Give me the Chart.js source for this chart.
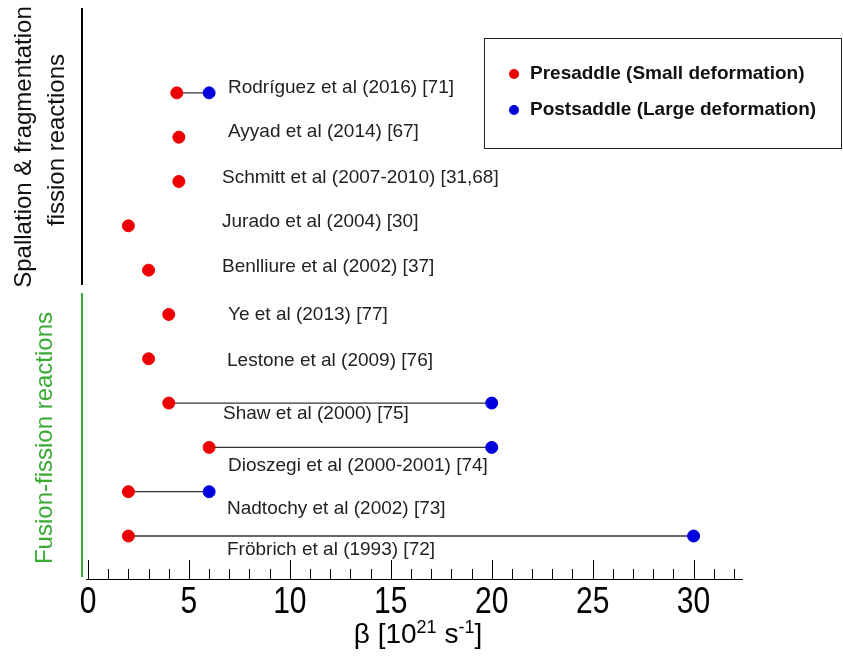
<!DOCTYPE html>
<html>
<head>
<meta charset="utf-8">
<script src="https://cdn.jsdelivr.net/npm/chart.js@4.4.0/dist/chart.umd.min.js"></script>
<style>
  body { margin: 0; background: #fff; }
  #wrap { width: 843px; height: 660px; position: relative; }
</style>
</head>
<body>
<div id="wrap"><canvas id="chartCanvas" width="843" height="660"></canvas></div>
<script>
// studies, top to bottom
const studies = [
  "Rodríguez et al (2016) [71]",
  "Ayyad et al (2014) [67]",
  "Schmitt et al (2007-2010) [31,68]",
  "Jurado et al (2004) [30]",
  "Benlliure et al (2002) [37]",
  "Ye et al (2013) [77]",
  "Lestone et al (2009) [76]",
  "Shaw et al (2000) [75]",
  "Dioszegi et al (2000-2001) [74]",
  "Nadtochy et al (2002) [73]",
  "Fröbrich et al (1993) [72]"
];
const presaddle = [4.4, 4.5, 4.5, 2, 3, 4, 3, 4, 6, 2, 2];
const postsaddle = [6, null, null, null, null, null, null, 20, 20, 6, 30];
const xTicks = [0, 5, 10, 15, 20, 25, 30];

// label placement (pixels): left x, offset from row centre
const labelX = [228, 228, 222, 222, 222, 228, 227, 223, 228, 227, 227];
const labelDy = [-5, -5, -4, -4, -3, 0, 2, 11, 18, 17, 14];

const RED = "#ee0000";
const BLUE = "#0000dd";
const GREEN = "#3aaa35";
const FONT = "'Liberation Sans', Arial, sans-serif";

const datasets = [];
studies.forEach((s, i) => {
  if (postsaddle[i] !== null) {
    datasets.push({
      type: "line",
      data: [{ x: presaddle[i], y: i }, { x: postsaddle[i], y: i }],
      borderColor: "#333",
      borderWidth: 1.3,
      pointRadius: 0,
      order: 3
    });
  }
});
datasets.push({
  label: "Postsaddle (Large deformation)",
  data: studies.map((s, i) => postsaddle[i] === null ? null : { x: postsaddle[i], y: i }).filter(p => p),
  backgroundColor: BLUE,
  borderColor: BLUE,
  pointRadius: 6,
  order: 2
});
datasets.push({
  label: "Presaddle (Small deformation)",
  data: studies.map((s, i) => ({ x: presaddle[i], y: i })),
  backgroundColor: RED,
  borderColor: RED,
  pointRadius: 6,
  order: 1
});

const decorPlugin = {
  id: "decor",
  afterDraw(chart) {
    const ctx = chart.ctx;
    const xs = chart.scales.x;
    const ys = chart.scales.y;
    const base = chart.chartArea.bottom;
    ctx.save();

    // minor / major ticks pointing up
    ctx.strokeStyle = "#000";
    ctx.lineWidth = 1;
    for (let v = 0; v <= 32; v++) {
      const px = Math.round(xs.getPixelForValue(v)) + 0.5;
      const len = v % 5 === 0 ? 19 : 10;
      ctx.beginPath();
      ctx.moveTo(px, base);
      ctx.lineTo(px, base - len);
      ctx.stroke();
    }

    // tick labels (tall, narrow digits as in the original)
    ctx.fillStyle = "#000";
    ctx.font = "30px " + FONT;
    ctx.textAlign = "center";
    ctx.textBaseline = "alphabetic";
    xTicks.forEach(v => {
      ctx.save();
      ctx.translate(xs.getPixelForValue(v), base + 34);
      ctx.scale(1, 1.2);
      ctx.fillText(String(v), 0, 0);
      ctx.restore();
    });

    // study labels
    ctx.fillStyle = "#222";
    ctx.font = "19px " + FONT;
    ctx.textBaseline = "middle";
    ctx.textAlign = "left";
    studies.forEach((s, i) => {
      ctx.fillText(s, labelX[i], ys.getPixelForValue(i) + labelDy[i]);
    });

    // axis title with superscripts
    ctx.fillStyle = "#000";
    ctx.textBaseline = "alphabetic";
    const big = "28px " + FONT;
    const small = "18px " + FONT;
    const parts = [["β [10", big, 0], ["21", small, -10], [" s", big, 0], ["-1", small, -10], ["]", big, 0]];
    let w = 0;
    parts.forEach(p => { ctx.font = p[1]; w += ctx.measureText(p[0]).width; });
    let tx = 418 - w / 2;
    parts.forEach(p => {
      ctx.font = p[1];
      ctx.fillText(p[0], tx, 643 + p[2]);
      tx += ctx.measureText(p[0]).width;
    });

    // group brackets
    ctx.lineWidth = 2;
    ctx.strokeStyle = "#000";
    ctx.beginPath(); ctx.moveTo(82, 8); ctx.lineTo(82, 285); ctx.stroke();
    ctx.strokeStyle = GREEN;
    ctx.beginPath(); ctx.moveTo(82, 293); ctx.lineTo(82, 577); ctx.stroke();

    ctx.font = "24px " + FONT;
    ctx.textAlign = "center";
    ctx.textBaseline = "alphabetic";
    ctx.fillStyle = "#111";
    ctx.save(); ctx.translate(31, 147); ctx.rotate(-Math.PI / 2);
    ctx.fillText("Spallation & fragmentation", 0, 0); ctx.restore();
    ctx.save(); ctx.translate(64, 140); ctx.rotate(-Math.PI / 2);
    ctx.fillText("fission reactions", 0, 0); ctx.restore();
    ctx.fillStyle = GREEN;
    ctx.save(); ctx.translate(52, 438); ctx.rotate(-Math.PI / 2);
    ctx.fillText("Fusion-fission reactions", 0, 0); ctx.restore();

    // legend box
    ctx.strokeStyle = "#222";
    ctx.lineWidth = 1;
    ctx.strokeRect(484.5, 38.5, 357, 110);
    const legendItems = [["Presaddle (Small deformation)", RED, 74], ["Postsaddle (Large deformation)", BLUE, 110]];
    ctx.font = "bold 19px " + FONT;
    ctx.textAlign = "left";
    ctx.textBaseline = "middle";
    legendItems.forEach(it => {
      ctx.fillStyle = it[1];
      ctx.beginPath(); ctx.arc(514, it[2], 5, 0, Math.PI * 2); ctx.fill();
      ctx.fillStyle = "#111";
      ctx.fillText(it[0], 530, it[2]);
    });
    ctx.restore();
  }
};

new Chart(document.getElementById("chartCanvas").getContext("2d"), {
  type: "scatter",
  data: { datasets: datasets },
  plugins: [decorPlugin],
  options: {
    responsive: false,
    animation: false,
    layout: { padding: { left: 86, right: 101, top: 10, bottom: 73 } },
    plugins: { legend: { display: false }, tooltip: { enabled: false } },
    scales: {
      x: {
        type: "linear",
        min: -0.1,
        max: 32.4,
        afterBuildTicks: (scale) => { scale.ticks = xTicks.map(v => ({ value: v })); },
        grid: { display: false },
        border: { display: true, color: "#000", width: 1 },
        ticks: { display: false }
      },
      y: {
        type: "linear",
        reverse: true,
        min: -1.87,
        max: 10.97,
        display: false
      }
    }
  }
});
</script>
</body>
</html>
